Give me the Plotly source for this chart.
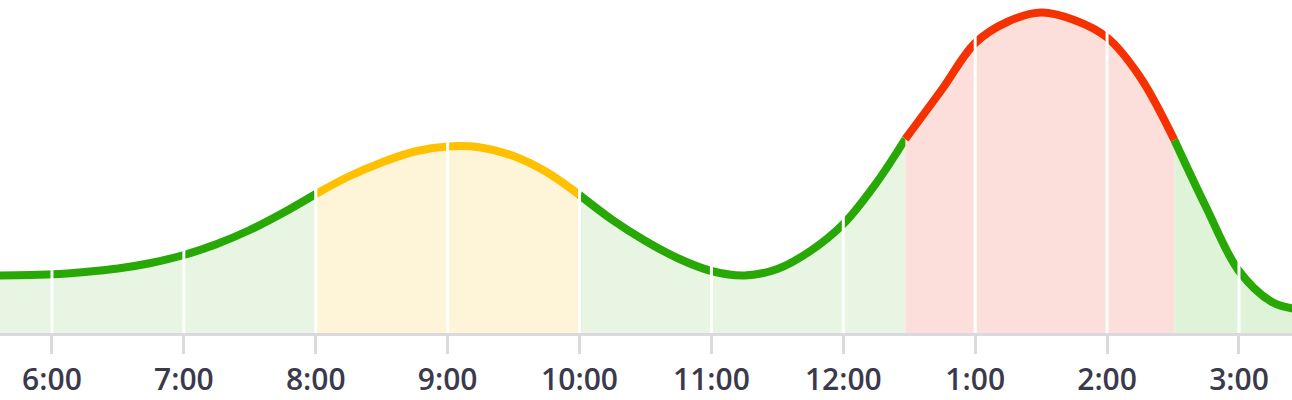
import plotly.graph_objects as go

# --- data (time in decimal hours, level = height of curve above baseline) ---
times = [5.6, 6.0, 6.25, 6.5, 6.75, 7.0, 7.25, 7.5, 7.75, 8.0, 8.25, 8.5, 8.75,
         9.0, 9.25, 9.5, 9.75, 10.0, 10.25, 10.5, 10.75, 11.0, 11.25, 11.5, 11.75,
         12.0, 12.25, 12.47, 12.75, 13.0, 13.25, 13.5, 13.75, 14.0, 14.25, 14.51,
         14.75, 15.0, 15.25, 15.41]
levels = [57.5, 58.7, 61.0, 64.5, 70.0, 78.0, 89.0, 103.0, 120.0, 139.0, 156.5,
          170.5, 181.5, 186.5, 185.5, 177.0, 161.0, 138.0, 113.0, 92.0, 74.5,
          62.0, 57.5, 64.0, 82.0, 109.0, 150.0, 194.0, 244.0, 290.0, 311.5, 320.5,
          313.0, 295.5, 256.0, 193.0, 126.0, 62.0, 31.0, 24.5]

# zone boundaries (hours) and styles
zone_bounds = [5.6, 8.0, 10.0, 12.47, 14.51, 15.41]
zone_lines = ["#27a805", "#ffc000", "#27a805", "#f53100", "#27a805"]
zone_fills = ["#e8f5e3", "#fef5d8", "#e8f5e3", "#fcdfda", "#dff3d9"]

tick_vals = [6, 7, 8, 9, 10, 11, 12, 13, 14, 15]
tick_text = ["6:00", "7:00", "8:00", "9:00", "10:00", "11:00", "12:00",
             "1:00", "2:00", "3:00"]

fig = go.Figure()

for i in range(len(zone_lines)):
    a, b = zone_bounds[i], zone_bounds[i + 1]
    xs = [t for t in times if a - 1e-9 <= t <= b + 1e-9]
    ys = [v for t, v in zip(times, levels) if a - 1e-9 <= t <= b + 1e-9]
    fig.add_trace(go.Scatter(
        x=xs, y=ys, mode="lines",
        line=dict(color=zone_lines[i], width=8, shape="spline", smoothing=1.0),
        fill="tozeroy", fillcolor=zone_fills[i],
        hoverinfo="skip", showlegend=False,
    ))

# white hour separators drawn over the area
for tv in tick_vals:
    fig.add_shape(type="line", xref="x", yref="paper", x0=tv, x1=tv, y0=0, y1=1,
                  line=dict(color="white", width=3), layer="above")

fig.update_layout(
    width=1292, height=400,
    margin=dict(l=0, r=0, t=0, b=67),
    paper_bgcolor="white", plot_bgcolor="white",
    font=dict(family="Open Sans", size=30, color="#3a3a4c", weight=600),
)
fig.update_xaxes(
    range=[5.606, 15.402], showgrid=False, zeroline=False,
    tickmode="array", tickvals=tick_vals, ticktext=tick_text,
    ticks="outside", ticklen=18, tickwidth=3, tickcolor="#d9d9de",
    showline=True, linecolor="#d9d9de", linewidth=3,
    tickfont=dict(family="Open Sans", size=30, color="#3a3a4c", weight=600),
)
fig.update_yaxes(range=[0, 333], visible=False, showgrid=False, zeroline=False)

fig.write_html("out.html", config={"displayModeBar": False},
               post_script="document.body.style.margin='0px';")
